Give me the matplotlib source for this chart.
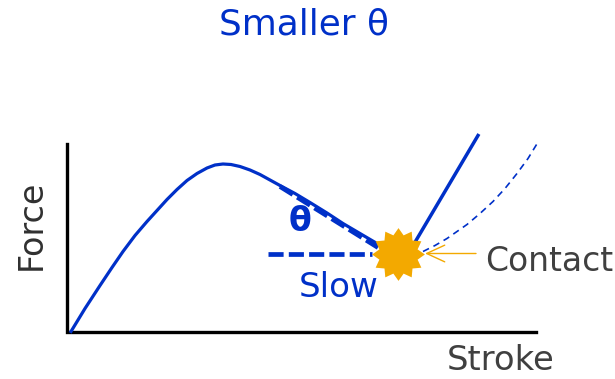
import matplotlib
matplotlib.use('Agg')
import matplotlib.pyplot as plt
from matplotlib.path import Path

# pixel-like units, y measured from the axis line upward
curve_x = [71, 85, 100, 112, 123, 135, 147, 157, 167, 177, 187, 197, 207, 215, 223, 231, 240, 250, 260, 270, 280, 295, 310, 327, 343, 360, 377]
curve_y = [0, 23, 46, 64, 80, 96, 110, 121, 132, 142, 151, 158, 163.5, 166.5, 167.5, 167, 165, 161.5, 157, 151.5, 146, 138, 129, 118.5, 108, 98, 88]
rise_x = [416, 478]
rise_y = [91, 196]
dash_x = [423, 435, 447, 467, 480, 493, 505, 517, 528, 539]
dash_y = [80, 86, 93, 107, 118, 130, 143, 158, 173, 191]
slope_x = [280, 378]
slope_y = [145, 84]
flat_x = [268, 372]
flat_y = [78, 78]
axis_x = [67, 67, 536]
axis_y = [188, 0, 0]
contact_x = [476, 425]
contact_y = [78, 78]
star_x = [398]
star_y = [78]

blue = '#0030c8'
orange = '#f3a900'
grey = '#404040'
plt.rcParams['font.family'] = ['DejaVu Sans']

fig = plt.figure(figsize=(6.15, 3.79), dpi=100)
ax = fig.add_axes([0, 0, 1, 1])
ax.set_xlim(0, 615)
ax.set_ylim(-47.5, 331.5)
ax.axis('off')

ax.plot(axis_x, axis_y, color='black', lw=2.4, solid_joinstyle='miter')
ax.plot(curve_x, curve_y, color=blue, lw=2.3, solid_joinstyle='round')
ax.plot(rise_x, rise_y, color=blue, lw=2.5)
ax.plot(dash_x, dash_y, color=blue, lw=1.2, ls=(0, (4, 3)))
ax.plot(slope_x, slope_y, color=blue, lw=3.4, ls=(0, (3.2, 1.1)))
ax.plot(flat_x, flat_y, color=blue, lw=3.4, ls=(0, (3.2, 1.1)))

# open arrow head points at the star
ax.annotate('', xy=(contact_x[1], contact_y[1]), xytext=(contact_x[0], contact_y[0]),
            arrowprops=dict(arrowstyle='->,head_length=1.3,head_width=0.6', color=orange, lw=1,
                            shrinkA=0, shrinkB=0))
ax.plot(star_x, star_y, marker=Path.unit_regular_star(12, innerCircle=0.75), ms=38,
        color=orange, mew=0, ls='none', zorder=5)

ax.text(304, 307, 'Smaller θ', color=blue, fontsize=25.8, ha='center', va='center')
ax.text(300, 110, 'θ', color=blue, fontsize=24, fontweight='bold', ha='center', va='center')
ax.text(339, 44, 'Slow', color=blue, fontsize=24.5, ha='center', va='center')
ax.text(549, 70, 'Contact', color=grey, fontsize=23.8, ha='center', va='center')
ax.text(501, -29, 'Stroke', color=grey, fontsize=24.4, ha='center', va='center')
ax.text(31, 107, 'Force', color='#303030', fontsize=24, rotation=90, ha='center', va='center')

fig.savefig('out.png', dpi=100)
